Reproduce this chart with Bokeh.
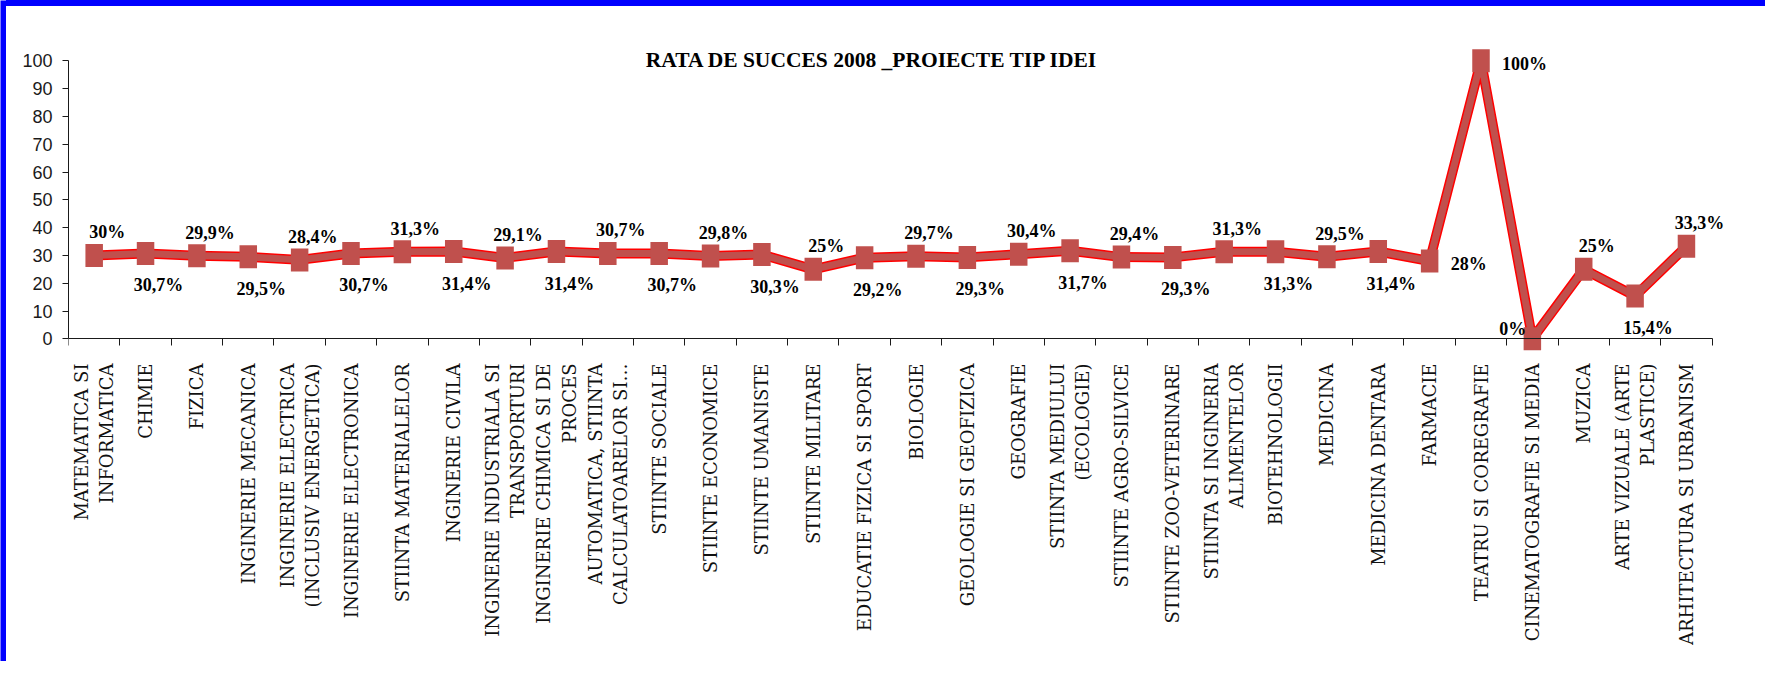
import math
from bokeh.plotting import figure
from bokeh.models import (Range1d, FixedTicker, Label, ColumnDataSource, LinearAxis,
                          CustomJSTickFormatter, Spacer)
from bokeh.layouts import row, column
from bokeh.embed import file_html
from bokeh.resources import INLINE
from bokeh.core.properties import value

# ---------------- data ----------------
title_text = "RATA DE SUCCES 2008 _PROIECTE TIP IDEI"

categories = [
    "MATEMATICA SI\nINFORMATICA",
    "CHIMIE",
    "FIZICA",
    "INGINERIE MECANICA",
    "INGINERIE ELECTRICA\n(INCLUSIV ENERGETICA)",
    "INGINERIE ELECTRONICA",
    "STIINTA MATERIALELOR",
    "INGINERIE CIVILA",
    "INGINERIE INDUSTRIALA SI\nTRANSPORTURI",
    "INGINERIE CHIMICA SI DE\nPROCES",
    "AUTOMATICA, STIINTA\nCALCULATOARELOR SI\u2026",
    "STIINTE SOCIALE",
    "STIINTE ECONOMICE",
    "STIINTE UMANISTE",
    "STIINTE MILITARE",
    "EDUCATIE FIZICA SI SPORT",
    "BIOLOGIE",
    "GEOLOGIE SI GEOFIZICA",
    "GEOGRAFIE",
    "STIINTA MEDIULUI\n(ECOLOGIE)",
    "STIINTE AGRO-SILVICE",
    "STIINTE ZOO-VETERINARE",
    "STIINTA SI INGINERIA\nALIMENTELOR",
    "BIOTEHNOLOGII",
    "MEDICINA",
    "MEDICINA DENTARA",
    "FARMACIE",
    "TEATRU SI COREGRAFIE",
    "CINEMATOGRAFIE SI MEDIA",
    "MUZICA",
    "ARTE VIZUALE (ARTE\nPLASTICE)",
    "ARHITECTURA SI URBANISM",
]

values = [30, 30.7, 29.9, 29.5, 28.4, 30.7, 31.3, 31.4, 29.1, 31.4,
          30.7, 30.7, 29.8, 30.3, 25, 29.2, 29.7, 29.3, 30.4, 31.7,
          29.4, 29.3, 31.3, 31.3, 29.5, 31.4, 28, 100, 0, 25,
          15.4, 33.3]

label_pos = ["above", "below"] * 13 + ["right", "right", "left", "above", "below", "above"]

y_ticks = list(range(0, 101, 10))

# ---------------- derived ----------------
n = len(categories)
xs = [i + 0.5 for i in range(n)]
boundaries = list(range(n + 1))
labels = [("%g" % v).replace(".", ",") + "%" for v in values]

RED_DARK = "#C0504D"
RED = "#FF0000"
BLUE = "#0000FF"
AXIS = "#1a1a1a"

p = figure(width=1759, height=655,
           x_range=Range1d(0, n + 1), y_range=Range1d(-6, 112),
           output_backend="svg", toolbar_location=None,
           min_border_left=62, min_border_right=2,
           min_border_top=21, min_border_bottom=306)
p.title.visible = False
p.outline_line_color = None
p.background_fill_color = "white"
p.border_fill_color = "white"
p.grid.visible = False

# category labels (below the frame)
xa = p.xaxis[0]
xa.ticker = FixedTicker(ticks=xs)
xa.major_label_overrides = {x: c for x, c in zip(xs, categories)}
xa.major_label_orientation = math.pi / 2
xa.axis_line_color = None
xa.major_tick_line_color = None
xa.minor_tick_line_color = None
xa.major_tick_out = 0
xa.major_tick_in = 0
xa.minor_tick_out = 0
xa.minor_tick_in = 0
xa.major_label_standoff = 8
xa.major_label_text_font = "DejaVu Serif"
xa.major_label_text_font_size = "18px"
xa.major_label_text_color = "#111111"

# category axis line and boundary ticks at y = 0
xline = LinearAxis(fixed_location=0, bounds=(0, n),
                   ticker=FixedTicker(ticks=[], minor_ticks=boundaries),
                   formatter=CustomJSTickFormatter(code="return ''"))
xline.axis_line_color = AXIS
xline.major_tick_line_color = None
xline.minor_tick_line_color = AXIS
xline.minor_tick_out = 7
xline.minor_tick_in = 0
xline.major_tick_out = 0
xline.major_tick_in = 0
xline.major_label_standoff = 0
xline.major_label_text_font_size = "0px"
p.add_layout(xline, "below")

# y axis
ya = p.yaxis[0]
ya.bounds = (0, 100)
ya.ticker = FixedTicker(ticks=y_ticks)
ya.major_tick_out = 6
ya.major_tick_in = 0
ya.minor_tick_line_color = None
ya.major_label_standoff = 10
ya.major_label_text_font = "'Liberation Sans Narrow', 'Liberation Sans', sans-serif"
ya.major_label_text_font_size = "18px"
ya.major_label_text_color = AXIS
ya.axis_line_color = AXIS
ya.major_tick_line_color = AXIS

# series line: red rim + darker core
p.line(xs, values, line_width=10, line_color=RED, line_join="round")
p.line(xs, values, line_width=7, line_color=RED_DARK, line_join="round")
p.rect(xs, values, width=17.5, height=23, width_units="screen", height_units="screen",
       fill_color=RED_DARK, line_color=None)

# data labels
placements = {
    "above": dict(text_align="center", text_baseline="alphabetic", x_offset=13, y_offset=-23),
    "below": dict(text_align="center", text_baseline="top", x_offset=13, y_offset=22),
    "right": dict(text_align="left", text_baseline="middle", x_offset=21, y_offset=3),
    "left": dict(text_align="right", text_baseline="alphabetic", x_offset=-6, y_offset=-10),
}
for pos, kw in placements.items():
    idx = [i for i, lp in enumerate(label_pos) if lp == pos]
    if not idx:
        continue
    src = ColumnDataSource(dict(x=[xs[i] for i in idx], y=[values[i] for i in idx],
                                t=[labels[i] for i in idx]))
    p.text(x="x", y="y", text="t", source=src,
           text_font=value("Liberation Serif"), text_font_style="bold",
           text_font_size="18px", text_color="black", **kw)

# chart title
p.add_layout(Label(x=15.65, y=100.4, text=title_text, text_align="center",
                   text_baseline="alphabetic", text_font="Liberation Serif",
                   text_font_style="bold", text_font_size="21.5px", text_color="black"))


def strip(w, h):
    f = figure(width=w, height=h, output_backend="svg", toolbar_location=None,
               x_axis_type=None, y_axis_type=None, min_border=0)
    f.title.visible = False
    f.outline_line_color = None
    f.background_fill_color = BLUE
    f.border_fill_color = BLUE
    f.grid.visible = False
    return f


left_strip = strip(6, 661)
top_strip = Spacer(width=1759, height=6, styles={"background-color": BLUE})

layout = row(left_strip, column(top_strip, p, spacing=0), spacing=0)

open("out.html", "w").write(file_html(layout, INLINE))
